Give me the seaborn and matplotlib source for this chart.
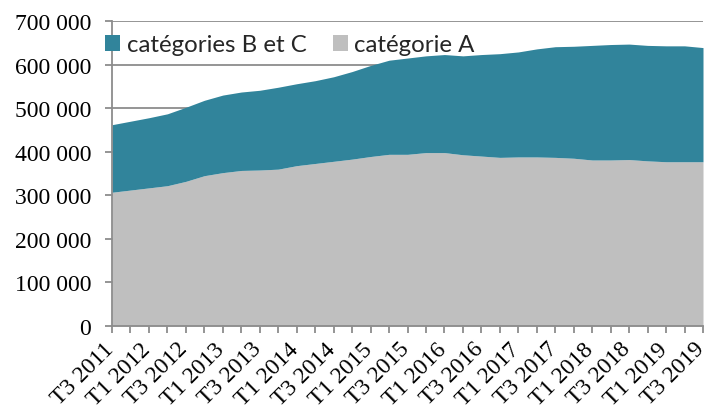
import matplotlib
matplotlib.use("Agg")
import matplotlib.pyplot as plt
import matplotlib.transforms as mtrans
import seaborn as sns
import numpy as np
import pandas as pd
from matplotlib.patches import Patch
from matplotlib.ticker import FuncFormatter, MultipleLocator

# Quarterly periods T3 2011 .. T3 2019
quarters = ["T3 2011", "T4 2011",
            "T1 2012", "T2 2012", "T3 2012", "T4 2012",
            "T1 2013", "T2 2013", "T3 2013", "T4 2013",
            "T1 2014", "T2 2014", "T3 2014", "T4 2014",
            "T1 2015", "T2 2015", "T3 2015", "T4 2015",
            "T1 2016", "T2 2016", "T3 2016", "T4 2016",
            "T1 2017", "T2 2017", "T3 2017", "T4 2017",
            "T1 2018", "T2 2018", "T3 2018", "T4 2018",
            "T1 2019", "T2 2019", "T3 2019"]

cat_a = [307000, 312000, 317000, 322000, 332000, 345000, 352000, 357000, 358000,
         360000, 368000, 373000, 378000, 383000, 389000, 394000, 394000, 398000,
         398000, 393000, 390000, 387000, 388000, 388000, 387000, 385000, 381000,
         381000, 382000, 379000, 377000, 377000, 377000]

total = [462000, 470000, 478000, 487000, 502000, 518000, 530000, 537000, 541000,
         548000, 556000, 563000, 572000, 584000, 598000, 610000, 615000, 620000,
         623000, 620000, 623000, 625000, 629000, 636000, 641000, 642000, 644000,
         646000, 647000, 644000, 643000, 643000, 639000]

cat_bc = [t - a for t, a in zip(total, cat_a)]

series_labels = ["catégories B et C", "catégorie A"]
colors = {"catégorie A": "#BFBFBF", "catégories B et C": "#31849B"}

df = pd.DataFrame({"trimestre": quarters, "catégorie A": cat_a,
                   "catégories B et C": cat_bc})
x = np.arange(len(df))

sns.set_theme(style="white")
plt.rcParams["font.family"] = ["Liberation Serif", "DejaVu Serif"]

fig = plt.figure(figsize=(7.04, 4.14), dpi=100)
ax = fig.add_axes([112 / 704, 1 - 327 / 414, 591 / 704, 305 / 414])

ax.stackplot(x, df["catégorie A"], df["catégories B et C"],
             colors=[colors["catégorie A"], colors["catégories B et C"]],
             linewidth=0, zorder=3)

ax.set_xlim(0, len(df) - 1)
ax.set_ylim(0, 700000)
ax.yaxis.set_major_locator(MultipleLocator(100000))
ax.yaxis.set_major_formatter(FuncFormatter(lambda v, p: f"{int(v):,}".replace(",", " ")))
ax.grid(axis="y", color="#8C8C8C", linewidth=1.3, zorder=0)
ax.grid(axis="x", visible=False)
ax.set_axisbelow(True)

ax.set_xticks(x[::2])
ax.set_xticklabels(df["trimestre"][::2], rotation=45, ha="right", va="top",
                   rotation_mode="anchor")
ax.set_xticks(x[1::2], minor=True)

for s in ["top", "right"]:
    ax.spines[s].set_visible(False)
for s in ["left", "bottom"]:
    ax.spines[s].set_color("#8C8C8C")
    ax.spines[s].set_linewidth(1.3)
    ax.spines[s].set_zorder(5)

ax.tick_params(axis="both", which="both", direction="out", length=5, width=1.3,
               color="#8C8C8C", labelsize=17, labelcolor="black")
ax.tick_params(axis="x", which="both", bottom=True, pad=3)
ax.tick_params(axis="y", left=True, pad=10)
ax.set_xlabel("")
ax.set_ylabel("")

offset = mtrans.ScaledTranslation(-9 / 100, -1 / 100, fig.dpi_scale_trans)
for lab in ax.get_xticklabels():
    lab.set_transform(lab.get_transform() + offset)

handles = [Patch(facecolor=colors[l], edgecolor="none") for l in series_labels]
leg = fig.legend(handles, series_labels, loc="upper left",
                 bbox_to_anchor=(91 / 704, 1 - 21 / 414), ncol=2, frameon=False,
                 prop={"family": "Lato", "size": 17.3},
                 handlelength=0.62, handleheight=0.62, handletextpad=0.27,
                 columnspacing=1.1, borderaxespad=0.2)

fig.savefig("out.png", dpi=100)
